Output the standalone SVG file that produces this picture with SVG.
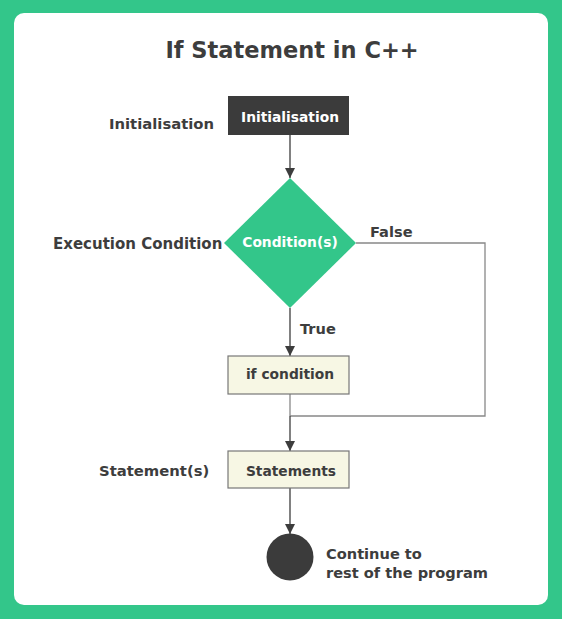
<svg xmlns="http://www.w3.org/2000/svg" width="562" height="619" viewBox="0 0 562 619">
<defs>
<marker id="arr" viewBox="0 0 10 10" refX="10" refY="5" markerWidth="10" markerHeight="10" markerUnits="userSpaceOnUse" orient="auto">
<path d="M0,0 L10,5 L0,10 Z" fill="#3d3d3d"/>
</marker>
<style>
text{font-family:"DejaVu Sans","Open Sans",sans-serif;font-weight:700;fill:#3d3d3d}
.lbl{font-size:14.6px}
.side{font-size:14.8px}
.wt{fill:#ffffff;font-size:13.8px}
.box{fill:#f7f7e4;stroke:#777;stroke-width:1.2}
.line{fill:none;stroke:#3d3d3d;stroke-width:1.3}
.loop{fill:none;stroke:#888;stroke-width:1.3}
</style>
</defs>
<rect x="0" y="0" width="562" height="619" fill="#33c68a"/>
<rect x="14" y="13" width="534" height="592" rx="10" fill="#ffffff"/>
<text x="292" y="58" text-anchor="middle" style="font-size:22.5px">If Statement in C++</text>
<g id="connectors">
<line class="line" x1="290" y1="135" x2="290" y2="178" marker-end="url(#arr)"/>
<line class="line" x1="290" y1="308" x2="290" y2="356" marker-end="url(#arr)"/>
<polyline class="loop" points="356,243 485,243 485,416 290,416"/>
<line class="loop" x1="290" y1="394" x2="290" y2="416"/>
<line class="line" x1="290" y1="416" x2="290" y2="451" marker-end="url(#arr)"/>
<line class="line" x1="290" y1="488" x2="290" y2="534" marker-end="url(#arr)"/>
<text class="lbl" x="370" y="237">False</text>
<text class="lbl" x="300" y="334">True</text>
</g>
<g id="init">
<rect x="228" y="96" width="121" height="39" fill="#3b3b3b"/>
<text class="wt" x="290" y="122" text-anchor="middle">Initialisation</text>
</g>
<g id="cond">
<polygon points="290,178 356,243 290,308 224,243" fill="#33c68a"/>
<text class="wt" x="290" y="247" text-anchor="middle">Condition(s)</text>
</g>
<g id="ifcond">
<rect class="box" x="228" y="356" width="121" height="38"/>
<text class="lbl" x="290" y="379" text-anchor="middle" style="font-size:13.8px">if condition</text>
</g>
<g id="stmts">
<rect class="box" x="228" y="451" width="121" height="37"/>
<text class="lbl" x="291" y="476" text-anchor="middle" style="font-size:13.8px">Statements</text>
</g>
<g id="end">
<circle cx="290" cy="557" r="23.5" fill="#3b3b3b"/>
<text class="lbl" x="326" y="559">Continue to</text>
<text class="lbl" x="326" y="578">rest of the program</text>
</g>
<g id="side-labels">
<text class="side" x="109" y="129">Initialisation</text>
<text class="side" x="53" y="249" style="font-size:15px">Execution Condition</text>
<text class="side" x="99" y="476">Statement(s)</text>
</g>
</svg>
